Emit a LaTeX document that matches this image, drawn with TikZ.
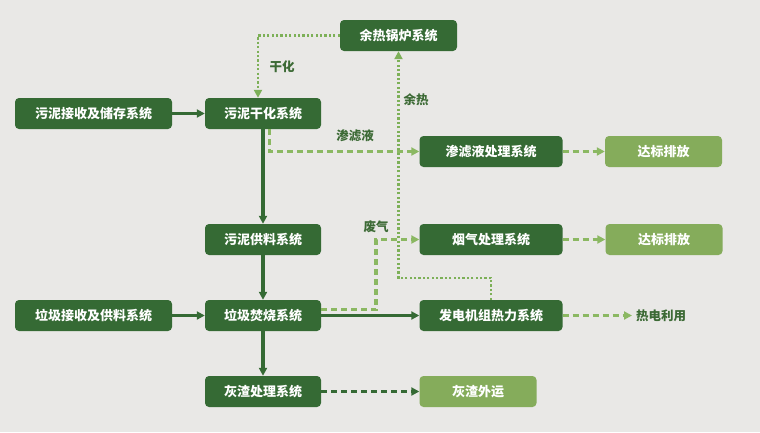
\documentclass[tikz,border=0pt]{standalone}
\usepackage{fontspec}
\setmainfont{Noto Sans CJK SC}
\usetikzlibrary{arrows.meta}
\definecolor{bg}{HTML}{E9E8E6}
\definecolor{dkgreen}{HTML}{356A34}
\definecolor{ltgreen}{HTML}{85AC5B}
\definecolor{dotgreen}{HTML}{7DB058}
\definecolor{dashgreen}{HTML}{8BB862}
\definecolor{lblgreen}{HTML}{3C6A35}
\tikzset{
  box/.style={rectangle, rounded corners=4pt, fill=dkgreen, text=white,
    font=\bfseries\fontsize{13}{13}\selectfont, minimum height=31pt, inner sep=0pt},
  lbox/.style={box, fill=ltgreen},
  lbl/.style={text=lblgreen, font=\bfseries\fontsize{12.5}{12.5}\selectfont, inner sep=0pt},
  solidarrow/.style={draw=dkgreen, line width=3.2pt, -{Triangle[length=8pt,width=8pt]}},
  dotarrow/.style={draw=dotgreen, line width=2.4pt, dash pattern=on 2.2pt off 2.2pt, -{Triangle[length=8pt,width=8pt]}},
  lightdash/.style={draw=dashgreen, line width=3.5pt, dash pattern=on 6pt off 4pt, -{Triangle[length=8pt,width=8pt]}},
  darkdash/.style={draw=dkgreen, line width=3.5pt, dash pattern=on 6pt off 4pt, -{Triangle[length=8pt,width=8pt]}},
}
\begin{document}
\begin{tikzpicture}[x=1pt,y=-1pt]
\useasboundingbox[fill=bg] (0,0) rectangle (760,432);
% nodes
\node[box, minimum width=157pt] (sjs) at (93.5,113.5) {污泥接收及储存系统};
\node[box, minimum width=116pt] (sgh) at (263,113.5) {污泥干化系统};
\node[box, minimum width=117pt] (yr) at (398.5,35.5) {余热锅炉系统};
\node[box, minimum width=143pt] (lst) at (491,151.5) {渗滤液处理系统};
\node[lbox, minimum width=117pt] (db1) at (663.5,151.5) {达标排放};
\node[box, minimum width=116pt] (sgl) at (263,239.5) {污泥供料系统};
\node[box, minimum width=143pt] (yq) at (491,239.5) {烟气处理系统};
\node[lbox, minimum width=117pt] (db2) at (664,239.5) {达标排放};
\node[box, minimum width=157pt] (ljs) at (93.5,315.5) {垃圾接收及供料系统};
\node[box, minimum width=116pt] (fs) at (263,315.5) {垃圾焚烧系统};
\node[box, minimum width=143pt] (fd) at (491,315.5) {发电机组热力系统};
\node[lbl, anchor=west] (rd) at (636,315.5) {热电利用};
\node[box, minimum width=116pt] (hz) at (263,391.5) {灰渣处理系统};
\node[lbox, minimum width=117pt] (hw) at (478,391.5) {灰渣外运};
% labels
\node[lbl] (lgh) at (282,67) {干化};
\node[lbl] (lyr) at (416,100) {余热};
\node[lbl] (lsl) at (355,136) {渗滤液};
\node[lbl] (lfq) at (376,227) {废气};
% solid connectors
\draw[solidarrow] (sjs.east) -- (sgh.west);
\draw[solidarrow] (sgh.south) -- (sgl.north);
\draw[solidarrow] (sgl.south) -- (fs.north);
\draw[solidarrow] (ljs.east) -- (fs.west);
\draw[solidarrow] (fs.east) -- (fd.west);
\draw[solidarrow] (fs.south) -- (hz.north);
% dotted
\draw[dotarrow] (yr.west) -| ([xshift=-5pt]sgh.north);
\draw[dotarrow] (fd.north) -- ++(0,-22) -| (yr.south);
% light dashed
\draw[lightdash] ([xshift=6.5pt]sgh.south) |- (lst.west);
\draw[lightdash] ([yshift=6pt]fs.east) -- ++(55,0) |- (yq.west);
\draw[lightdash] (lst.east) -- (db1.west);
\draw[lightdash] (yq.east) -- (db2.west);
\draw[lightdash, shorten >=4pt] (fd.east) -- (rd.west);
% dark dashed
\draw[darkdash] (hz.east) -- (hw.west);
\end{tikzpicture}
\end{document}
